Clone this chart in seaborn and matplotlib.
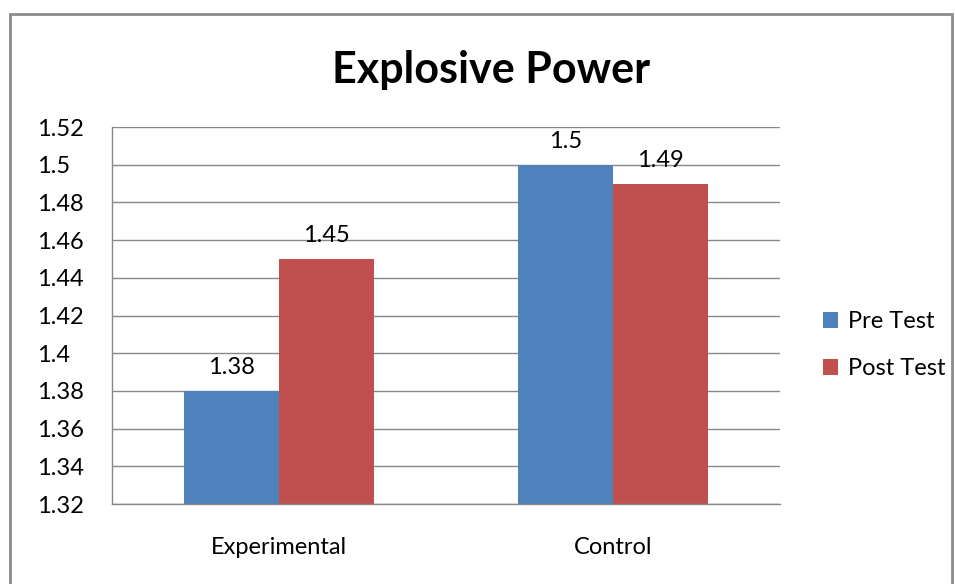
import pandas as pd
import seaborn as sns
import matplotlib.pyplot as plt
from matplotlib.patches import Rectangle
from matplotlib.ticker import FuncFormatter

groups = ["Experimental", "Control"]
tests = ["Pre Test", "Post Test"]
pre_test = [1.38, 1.50]
post_test = [1.45, 1.49]
yticks = [1.32, 1.34, 1.36, 1.38, 1.40, 1.42, 1.44, 1.46, 1.48, 1.50, 1.52]

df = pd.DataFrame({
    "group": groups * 2,
    "test": [tests[0]] * 2 + [tests[1]] * 2,
    "value": pre_test + post_test,
})

sns.set_theme(style="white")
plt.rcParams['font.family'] = ['Lato', 'DejaVu Sans']
plt.rcParams['text.color'] = 'black'

fs = 17

fig = plt.figure(figsize=(9.55, 5.84), dpi=100)
# outer chart border
fig.patches.append(Rectangle((10 / 955, -0.01), 942 / 955, 1 - 14 / 584 + 0.01,
                             transform=fig.transFigure, fill=False,
                             edgecolor="#8c8c8c", linewidth=2))

ax = fig.add_axes([112 / 955, 1 - 504 / 584, 668 / 955, 377 / 584])
sns.barplot(data=df, x="group", y="value", hue="test", order=groups, hue_order=tests,
            palette=["#4F81BD", "#C0504D"], width=0.57, saturation=1,
            linewidth=0, ax=ax)

ax.set_ylim(1.32, 1.52)
ax.set_yticks(yticks)
ax.yaxis.set_major_formatter(FuncFormatter(lambda v, p: f"{v:g}"))
ax.grid(axis="y", color="#888888", linewidth=1)
ax.set_axisbelow(True)
for s in ["top", "right"]:
    ax.spines[s].set_visible(False)
for s in ["left", "bottom"]:
    ax.spines[s].set_color("#888888")
    ax.spines[s].set_linewidth(1)
ax.tick_params(axis="both", length=0, labelsize=fs, colors="black")
ax.tick_params(axis="y", pad=54)
ax.tick_params(axis="x", pad=24)
for t in ax.get_yticklabels():
    t.set_horizontalalignment("left")
ax.set_xlabel("")
ax.set_ylabel("")

for cont in ax.containers:
    ax.bar_label(cont, labels=[f"{v:g}" for v in cont.datavalues],
                 fontsize=fs, padding=9)

fig.text(491 / 955, 1 - 70 / 584, "Explosive Power", ha="center", va="center",
         fontsize=31, fontweight="bold")

leg = ax.legend(loc="center left", bbox_to_anchor=(823 / 955, 1 - 345 / 584),
                bbox_transform=fig.transFigure, frameon=False, borderpad=0,
                borderaxespad=0, fontsize=fs, handlelength=0.65, handleheight=0.65,
                handletextpad=0.4, labelspacing=1.1)

fig.savefig("out.png", dpi=100)
